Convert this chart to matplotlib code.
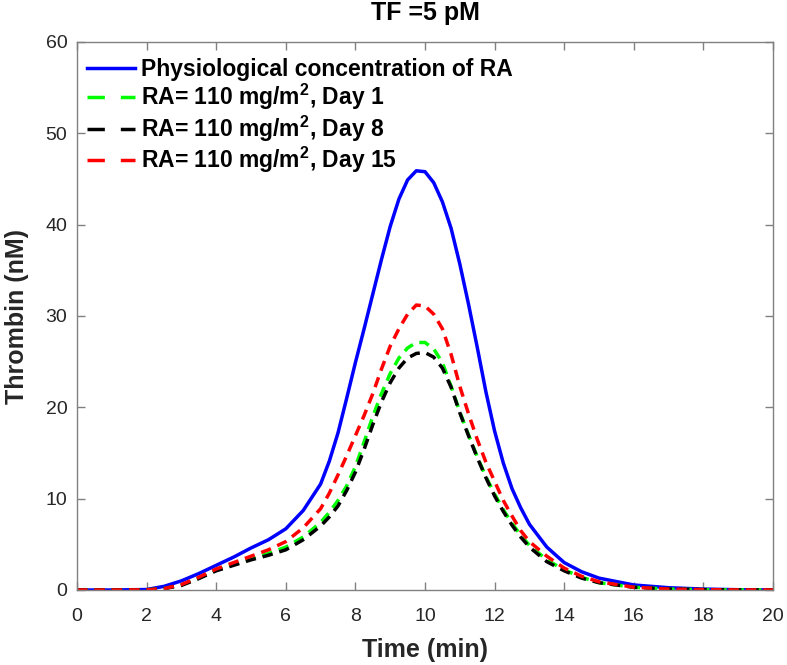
import matplotlib
matplotlib.use("Agg")
import matplotlib.pyplot as plt
from matplotlib.lines import Line2D

plt.rcParams['font.family'] = ['Liberation Sans', 'DejaVu Sans']
plt.rcParams['mathtext.fontset'] = 'custom'
plt.rcParams['mathtext.rm'] = 'Liberation Sans'
plt.rcParams['mathtext.bf'] = 'Liberation Sans:bold'
plt.rcParams['mathtext.default'] = 'bf'

time = [0, 1, 2, 2.5, 3, 3.5, 4, 4.5, 5, 5.5, 6, 6.5, 7,
        7.25, 7.5, 7.75, 8, 8.25, 8.5, 8.75, 9, 9.25, 9.5, 9.75, 10,
        10.25, 10.5, 10.75, 11, 11.25, 11.5, 11.75, 12, 12.25, 12.5, 12.75, 13,
        13.5, 14, 14.5, 15, 16, 17, 18, 19, 20]

physiological = [0, 0, 0.05, 0.4, 1.0, 1.8, 2.7, 3.6, 4.6, 5.5, 6.7, 8.7, 11.6,
                 14.1, 17.2, 21.0, 24.9, 28.6, 32.4, 36.2, 39.8, 42.8, 44.9, 45.9, 45.8,
                 44.6, 42.5, 39.6, 35.7, 31.3, 26.6, 21.7, 17.4, 13.9, 11.1, 9.0, 7.2,
                 4.7, 3.0, 2.0, 1.3, 0.55, 0.25, 0.1, 0.03, 0.01]
day1 = [0, 0, 0.02, 0.15, 0.55, 1.3, 2.2, 2.8, 3.4, 4.0, 4.7, 5.8, 7.4,
        8.5, 9.8, 11.4, 13.5, 16.2, 19.0, 21.5, 23.7, 25.4, 26.5, 27.1, 27.1,
        26.4, 24.9, 22.3, 19.5, 17.0, 14.6, 12.4, 10.5, 8.8, 7.3, 6.0, 4.9,
        3.3, 2.2, 1.4, 0.8, 0.3, 0.1, 0.04, 0.01, 0]
day8 = [0, 0, 0.02, 0.15, 0.5, 1.25, 2.1, 2.7, 3.3, 3.8, 4.4, 5.5, 7.0,
        8.0, 9.2, 10.9, 12.9, 15.4, 18.1, 20.6, 22.7, 24.3, 25.4, 25.9, 26.0,
        25.5, 24.3, 22.2, 19.4, 16.9, 14.5, 12.3, 10.3, 8.6, 7.1, 5.8, 4.7,
        3.1, 2.1, 1.3, 0.8, 0.3, 0.1, 0.04, 0.01, 0]
day15 = [0, 0, 0.02, 0.15, 0.6, 1.4, 2.3, 3.0, 3.7, 4.4, 5.3, 6.8, 8.9,
         10.6, 12.6, 14.7, 16.9, 19.1, 21.5, 24.2, 26.7, 28.6, 30.2, 31.2, 31.1,
         30.2, 28.6, 25.8, 22.3, 19.3, 16.5, 14.0, 11.9, 9.8, 8.1, 6.5, 5.3,
         3.7, 2.4, 1.5, 0.9, 0.3, 0.1, 0.04, 0.01, 0]

labels = ['Physiological concentration of RA',
          'RA= 110 mg/m$^{2}$, Day 1',
          'RA= 110 mg/m$^{2}$, Day 8',
          'RA= 110 mg/m$^{2}$, Day 15']
colors = ['#0000ff', '#00ff00', '#000000', '#ff0000']

xticks = [0, 2, 4, 6, 8, 10, 12, 14, 16, 18, 20]
yticks = [0, 10, 20, 30, 40, 50, 60]

fig = plt.figure(figsize=(7.87, 6.65), dpi=100)
ax = fig.add_axes([77/787, 1-590/665, (773-77)/787, (590-42)/665])

lw = 2.5
dash = (3.0, 2.0)
ax.plot(time, physiological, color=colors[0], lw=lw)
ax.plot(time, day1, color=colors[1], lw=lw, dashes=dash)
ax.plot(time, day8, color=colors[2], lw=lw, dashes=dash)
ax.plot(time, day15, color=colors[3], lw=lw, dashes=dash)

ax.set_xlim(0, 20)
ax.set_ylim(0, 60)
ax.set_xticks(xticks)
ax.set_yticks(yticks)

axcol = '#808080'
for s in ax.spines.values():
    s.set_color(axcol)
    s.set_linewidth(1.0)
ax.tick_params(direction='in', length=6, width=1.0, color=axcol,
               labelcolor='#262626', labelsize=14, top=True, right=True)
ax.tick_params(axis='x', pad=13)
ax.tick_params(axis='y', pad=7)

ax.set_xlabel('Time (min)', fontsize=18, fontweight='bold', color='#262626', labelpad=9)
ax.set_ylabel('Thrombin (nM)', fontsize=18, fontweight='bold', color='#262626', labelpad=12)
ax.set_title('TF =5 pM', fontsize=18, fontweight='bold', color='#000000', pad=16)

handles = [Line2D([], [], color=colors[0], lw=lw)]
for c in colors[1:]:
    handles.append(Line2D([], [], color=c, lw=lw, dashes=(5.0, 4.6)))
leg = ax.legend(handles, labels, loc='upper left', bbox_to_anchor=(0.0078, 0.979),
                frameon=False, prop={'weight': 'bold', 'size': 16.5},
                handlelength=2.1, handletextpad=0.25, labelspacing=0.05,
                borderaxespad=0.0, borderpad=0.2)

fig.savefig('out.png', dpi=100)
